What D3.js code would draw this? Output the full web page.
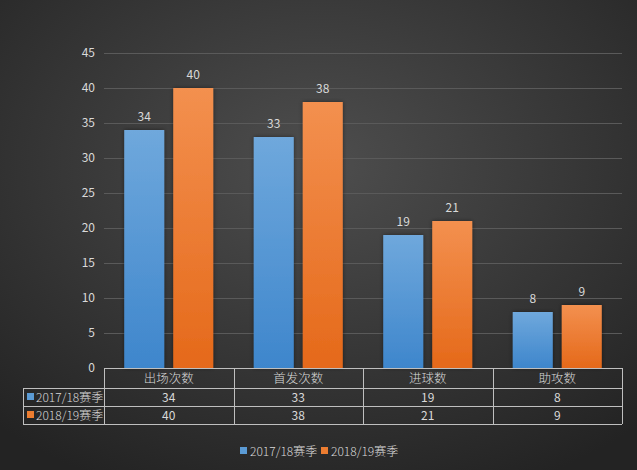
<!DOCTYPE html>
<html><head><meta charset="utf-8">
<script src="https://cdn.jsdelivr.net/npm/d3@7"></script>
<style>html,body{margin:0;padding:0;background:#333;}svg{display:block;}</style>
</head><body>
<svg id="c" width="637" height="470"></svg>
<script>
const categories = ["出场次数","首发次数","进球数","助攻数"];
const seriesNames = ["2017/18赛季","2018/19赛季"];
const values1718 = [34,33,19,8];
const values1819 = [40,38,21,9];
const yTicks = [0,5,10,15,20,25,30,35,40,45];

(function(){
const seriesData = [values1718, values1819];
const W=637,H=470;
const svg=d3.select("#c");
const defs=svg.append("defs");
const bg=defs.append("radialGradient").attr("id","bg").attr("cx","50%").attr("cy","35%").attr("r","75%");
bg.append("stop").attr("offset","0%").attr("stop-color","#4e4e4e");
bg.append("stop").attr("offset","100%").attr("stop-color","#232323");
const gb=defs.append("linearGradient").attr("id","gBlue").attr("x1",0).attr("y1",0).attr("x2",0).attr("y2",1);
gb.append("stop").attr("offset","0%").attr("stop-color","#6fa8dc");
gb.append("stop").attr("offset","100%").attr("stop-color","#3e86cc");
const go=defs.append("linearGradient").attr("id","gOrange").attr("x1",0).attr("y1",0).attr("x2",0).attr("y2",1);
go.append("stop").attr("offset","0%").attr("stop-color","#f3904f");
go.append("stop").attr("offset","100%").attr("stop-color","#e5691a");
const fills=["url(#gBlue)","url(#gOrange)"];
const swatch=["#5b9bd5","#ed7d31"];
const flt=defs.append("filter").attr("id","sh").attr("x","-20%").attr("y","-20%").attr("width","140%").attr("height","140%");
flt.append("feDropShadow").attr("dx",0).attr("dy",0).attr("stdDeviation",2).attr("flood-color","#000").attr("flood-opacity",0.45);

svg.append("rect").attr("width",W).attr("height",H).attr("fill","url(#bg)");

const font="'Noto Sans CJK SC','Noto Sans',sans-serif";
const txt="#d9d9d9";
const pL=104,pR=622,pT=53,pB=368;
const x0=d3.scaleBand().domain(categories).range([pL,pR]).padding(0);
const x1=d3.scaleBand().domain(seriesNames).range([20.25,109.25]).paddingInner(9/49).paddingOuter(0);
const y=d3.scaleLinear().domain([0,45]).range([pB,pT]);

svg.append("g").selectAll("line").data(yTicks.filter(d=>d>0)).join("line")
 .attr("x1",pL).attr("x2",pR).attr("y1",d=>Math.round(y(d))+0.5).attr("y2",d=>Math.round(y(d))+0.5)
 .attr("stroke","#5a5a5a").attr("stroke-width",1);

const yAxis=d3.axisLeft(y).tickValues(yTicks).tickSize(0).tickPadding(9);
const ya=svg.append("g").attr("transform",`translate(${pL},0)`).call(yAxis);
ya.select(".domain").remove();
ya.selectAll("text").attr("fill",txt).style("font-family",font).style("font-size","12px");

const groups=svg.append("g").selectAll("g").data(categories).join("g").attr("transform",d=>`translate(${x0(d)},0)`);
groups.selectAll("rect").data((d,i)=>seriesNames.map((s,j)=>({s,j,v:seriesData[j][i]}))).join("rect")
 .attr("x",d=>x1(d.s)).attr("width",x1.bandwidth())
 .attr("y",d=>y(d.v)).attr("height",d=>y(0)-y(d.v))
 .attr("fill",d=>fills[d.j]).attr("filter","url(#sh)");
groups.selectAll("text").data((d,i)=>seriesNames.map((s,j)=>({s,j,v:seriesData[j][i]}))).join("text")
 .attr("x",d=>x1(d.s)+x1.bandwidth()/2).attr("y",d=>y(d.v)-9)
 .attr("text-anchor","middle").attr("fill",txt).style("font-family",font).style("font-size","12px").text(d=>d.v);

const tLeft=23, rowTops=[368,388,406,424];
const tg=svg.append("g");
const lc="#bfbfbf";
tg.append("line").attr("x1",pL).attr("x2",pR).attr("y1",rowTops[0]+0.5).attr("y2",rowTops[0]+0.5).attr("stroke",lc);
[1,2,3].forEach(k=>tg.append("line").attr("x1",tLeft).attr("x2",pR).attr("y1",rowTops[k]+0.5).attr("y2",rowTops[k]+0.5).attr("stroke",lc));
tg.append("line").attr("x1",tLeft+0.5).attr("x2",tLeft+0.5).attr("y1",rowTops[1]).attr("y2",rowTops[3]).attr("stroke",lc);
categories.forEach(c=>tg.append("line").attr("x1",Math.round(x0(c))+0.5).attr("x2",Math.round(x0(c))+0.5).attr("y1",rowTops[0]).attr("y2",rowTops[3]).attr("stroke",lc));
tg.append("line").attr("x1",pR+0.5).attr("x2",pR+0.5).attr("y1",rowTops[0]).attr("y2",rowTops[3]).attr("stroke",lc);
tg.selectAll("text.h").data(categories).join("text").attr("class","h")
 .attr("x",d=>x0(d)+x0.bandwidth()/2).attr("y",(rowTops[0]+rowTops[1])/2+4.5)
 .attr("text-anchor","middle").attr("fill",txt).style("font-family",font).style("font-size","12.5px").style("font-weight","300").text(d=>d);
seriesNames.forEach((s,j)=>{
 const cy=(rowTops[j+1]+rowTops[j+2])/2;
 tg.append("rect").attr("x",tLeft+4).attr("y",cy-4).attr("width",7).attr("height",7).attr("fill",swatch[j]);
 tg.append("text").attr("x",tLeft+13).attr("y",cy+4.5).attr("fill",txt).style("font-family",font).style("font-size","12px").style("font-weight","300").text(s);
 tg.selectAll(null).data(categories).join("text")
  .attr("x",d=>x0(d)+x0.bandwidth()/2).attr("y",cy+4.5).attr("text-anchor","middle")
  .attr("fill",txt).style("font-family",font).style("font-size","12px").text((d,i)=>seriesData[j][i]);
});

const leg=svg.append("g");
const legX=[240,321];
seriesNames.forEach((s,j)=>{
 leg.append("rect").attr("x",legX[j]).attr("y",447).attr("width",7).attr("height",7).attr("fill",swatch[j]);
 leg.append("text").attr("x",legX[j]+10).attr("y",455.5).attr("fill",txt).style("font-family",font).style("font-size","12px").style("font-weight","300").text(s);
});
})();
</script>
</body></html>
